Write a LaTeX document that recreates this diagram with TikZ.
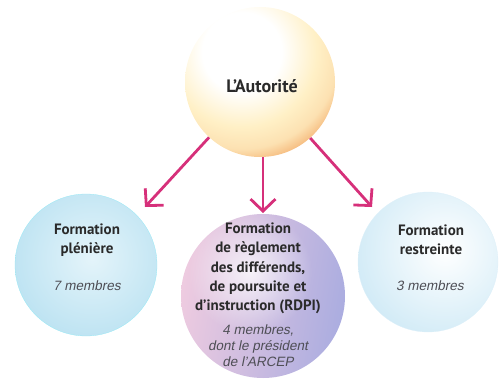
\documentclass[tikz,border=0pt]{standalone}
\usepackage{fontspec}
\setmainfont{PT Sans}
\newfontfamily\itfont{Liberation Sans}[FakeSlant=0.2]
\usetikzlibrary{arrows.meta,fadings,shadings}
\tikzfading[name=glow,inner color=transparent!0,outer color=transparent!100]
\definecolor{mag}{HTML}{D6307A}
\definecolor{txt}{HTML}{2A2A2A}
\definecolor{itx}{HTML}{4E4E55}
\definecolor{cream}{HTML}{FFF0C6}
\definecolor{peach}{HTML}{F6BE82}
\definecolor{lblue}{HTML}{BDE3F2}
\definecolor{lblue2}{HTML}{E4F4FA}
\definecolor{pinkc}{HTML}{EECBE0}
\definecolor{violc}{HTML}{ABADE0}
\definecolor{pblue}{HTML}{D0EAF6}
\pgfdeclareradialshading{topsh}{\pgfpoint{0bp}{0bp}}{color(0bp)=(white); color(9bp)=(white); color(17bp)=(cream); color(22bp)=(cream!70!peach); color(25bp)=(peach); color(50bp)=(peach)}
\begin{document}
\begin{tikzpicture}[x=1pt,y=-1pt,
  ball/.style={circle,minimum size=#1,inner sep=0pt},
  lbl/.style={font=\fontsize{15}{19.4}\selectfont\bfseries,text=txt,align=center},
  sub/.style={font=\fontsize{13.5}{16}\selectfont\itfont,text=itx,align=center},
  conn/.style={draw=mag,line width=2.8pt,-{Straight Barb[length=12pt,width=25pt,line width=2.8pt]}}]
\useasboundingbox (0,0) rectangle (500,380);
% top
\begin{scope}
\clip (260,82) circle (75);
\shade[shading=topsh] (242,52) circle (110);
\end{scope}
\node[ball=150pt] (top) at (260,82) {};
% left
\begin{scope}
\clip (86,265) circle (71);
\shade[inner color=lblue2,outer color=lblue] (92,258) circle (82);
\end{scope}
\draw[lblue!80!cyan,line width=0.3pt] (86,265) circle (71);
\node[ball=142pt] (left) at (86,265) {};
% right
\begin{scope}
\clip (428,262) circle (70);
\shade[inner color=white,outer color=pblue] (445,250) circle (95);
\end{scope}
\draw[pblue!70,line width=0.3pt] (428,262) circle (70);
\node[ball=140pt] (right) at (428,262) {};
% middle
\begin{scope}
\clip (263,296) circle (82);
\shade[left color=pinkc,right color=violc,shading angle=80] (181,214) rectangle (345,378);
\fill[white,opacity=0.8,path fading=glow] (250,272) circle (62);
\end{scope}
\node[ball=164pt] (mid) at (263,296) {};
% arrows
\coordinate (a1) at (145,207);
\coordinate (a2) at (263,213);
\coordinate (a3) at (372,207);
\draw[conn] (top) -- (a1);
\draw[conn] (top.south -| a2) -- (a2);
\draw[conn] (top) -- (a3);
% texts
\node[lbl] (t0) at (262,86) {\fontsize{18}{20}\selectfont L’Autorité};
\node[lbl] (t1) at (87,240) {Formation\\plénière};
\node[sub] (s1) at (87,286) {7 membres};
\node[lbl] (t2) at (258,268.5) {Formation\\de règlement\\des différends,\\de poursuite et\\d’instruction (RDPI)};
\node[sub] (s2) at (258,346) {4 membres,\\dont le président\\de l’ARCEP};
\node[lbl] (t3) at (431,240) {Formation\\restreinte};
\node[sub] (s3) at (430,286) {3 membres};
\end{tikzpicture}
\end{document}
